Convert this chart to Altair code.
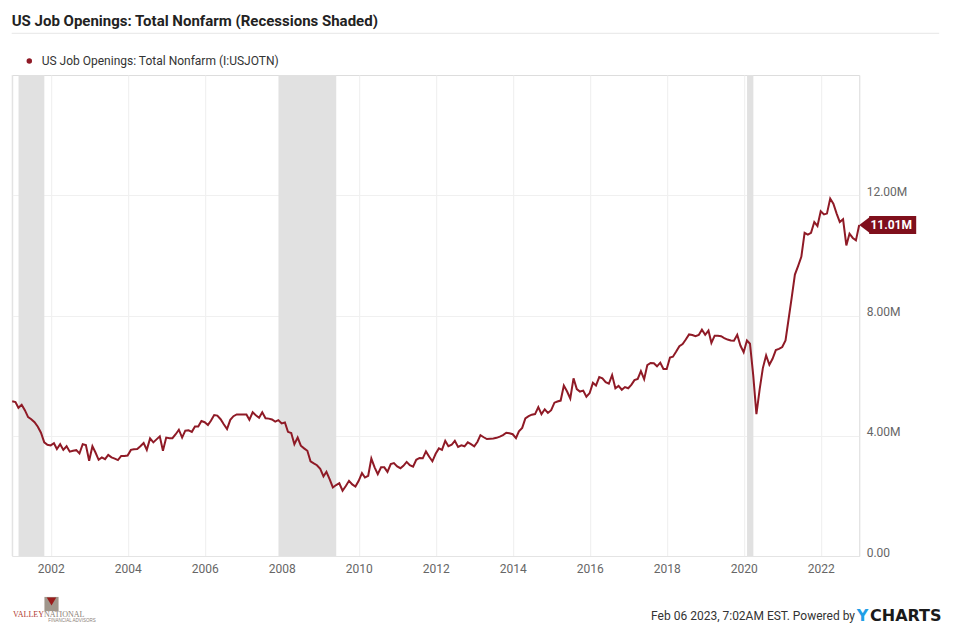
import altair as alt
import pandas as pd

TITLE = "US Job Openings: Total Nonfarm (Recessions Shaded)"
SERIES = "US Job Openings: Total Nonfarm (I:USJOTN)"
FOOTER = "Feb 06 2023, 7:02AM EST. Powered by"

# Monthly values, millions (Dec 2000 - Dec 2022)
v2000 = [5.15]
v2001 = [5.12, 4.93, 5.03, 4.85, 4.62, 4.55, 4.45, 4.30, 4.10, 3.78, 3.70, 3.68]
v2002 = [3.75, 3.56, 3.72, 3.53, 3.65, 3.47, 3.50, 3.52, 3.41, 3.72, 3.69, 3.17]
v2003 = [3.65, 3.45, 3.20, 3.28, 3.22, 3.36, 3.28, 3.24, 3.19, 3.33, 3.33, 3.34]
v2004 = [3.53, 3.55, 3.56, 3.65, 3.76, 3.53, 3.91, 3.78, 3.88, 3.98, 3.50, 3.94]
v2005 = [3.92, 3.92, 4.05, 4.20, 3.94, 4.17, 4.18, 4.13, 4.31, 4.31, 4.49, 4.45]
v2006 = [4.36, 4.50, 4.69, 4.67, 4.55, 4.38, 4.22, 4.53, 4.65, 4.71, 4.71, 4.71]
v2007 = [4.71, 4.53, 4.78, 4.68, 4.60, 4.78, 4.58, 4.57, 4.54, 4.47, 4.52, 4.41]
v2008 = [4.44, 4.13, 4.09, 3.72, 3.94, 3.67, 3.58, 3.50, 3.15, 3.08, 3.02, 2.90]
v2009 = [2.65, 2.80, 2.55, 2.28, 2.36, 2.42, 2.17, 2.33, 2.50, 2.38, 2.31, 2.50]
v2010 = [2.76, 2.61, 2.67, 3.24, 2.95, 2.72, 2.95, 2.95, 2.80, 3.06, 3.09, 2.98]
v2011 = [2.92, 3.00, 3.13, 3.02, 2.97, 3.20, 3.26, 3.25, 3.48, 3.30, 3.15, 3.40]
v2012 = [3.58, 3.53, 3.83, 3.65, 3.70, 3.83, 3.63, 3.68, 3.65, 3.78, 3.72, 3.65]
v2013 = [3.80, 4.02, 3.95, 3.89, 3.90, 3.91, 3.93, 3.97, 4.02, 4.10, 4.08, 4.05]
v2014 = [3.92, 4.15, 4.26, 4.58, 4.65, 4.70, 4.72, 4.95, 4.72, 4.88, 4.76, 4.85]
v2015 = [5.10, 5.14, 5.17, 5.67, 5.47, 5.24, 5.91, 5.55, 5.47, 5.50, 5.30, 5.42]
v2016 = [5.76, 5.67, 5.95, 5.91, 5.78, 5.73, 6.02, 5.58, 5.66, 5.53, 5.62, 5.58]
v2017 = [5.70, 5.85, 5.89, 6.15, 5.88, 6.35, 6.42, 6.41, 6.31, 6.43, 6.22, 6.22]
v2018 = [6.60, 6.63, 6.80, 6.98, 7.05, 7.20, 7.37, 7.35, 7.31, 7.35, 7.53, 7.36]
v2019 = [7.50, 7.09, 7.33, 7.33, 7.31, 7.25, 7.20, 7.17, 7.16, 7.36, 7.00, 6.78]
v2020 = [7.17, 7.06, 6.00, 4.72, 5.55, 6.25, 6.67, 6.36, 6.56, 6.85, 6.89, 6.95]
v2021 = [7.17, 7.85, 8.60, 9.36, 9.65, 9.95, 10.75, 10.69, 10.75, 11.11, 10.98, 11.47]
v2022 = [11.36, 11.39, 11.89, 11.72, 11.39, 11.11, 11.20, 10.33, 10.72, 10.58, 10.50, 11.01]

values = (v2000 + v2001 + v2002 + v2003 + v2004 + v2005 + v2006 + v2007 + v2008
          + v2009 + v2010 + v2011 + v2012 + v2013 + v2014 + v2015 + v2016 + v2017
          + v2018 + v2019 + v2020 + v2021 + v2022)

start = pd.Timestamp("2000-12-01")
dates = [(start + pd.DateOffset(months=i) + pd.offsets.MonthEnd(0)).strftime("%Y-%m-%d")
         for i in range(len(values))]

rec_start = ["2001-03-01", "2007-12-01", "2020-02-01"]
rec_end = ["2001-11-01", "2009-06-01", "2020-04-01"]

tick_years = [2002, 2004, 2006, 2008, 2010, 2012, 2014, 2016, 2018, 2020, 2022]
y_ticks = [0, 4, 8, 12]

LINE = "#8f1a26"
BOX = "#7f0f1c"
W, H = 847, 481

df = pd.DataFrame({"date": dates, "v": values})
rec = pd.DataFrame({"start": rec_start, "end": rec_end})
last = pd.DataFrame({"date": [dates[-1]], "v": [values[-1]],
                     "label": [f"{values[-1]:.2f}M"]})

xscale = alt.Scale(type="utc", domain=[alt.DateTime(year=2000, month=12, date=31, utc=True),
                                       alt.DateTime(year=2022, month=12, date=31, utc=True)])
xaxis = alt.Axis(format="%Y", values=[alt.DateTime(year=y, month=1, date=1, utc=True) for y in tick_years],
                 title=None, ticks=False, labelPadding=7, labelFontSize=12, labelColor="#666666",
                 labelFont="Roboto", domainColor="#e4e4e4", gridColor="#eeeeee", labelOverlap=False,
                 labelFlush=False)
yscale = alt.Scale(domain=[0, 16], nice=False, zero=True)
yaxis = alt.Axis(orient="right", values=y_ticks, title=None, ticks=False, labelPadding=7,
                 labelFontSize=12, labelColor="#666666", labelFont="Roboto",
                 labelBaseline="alphabetic", domainColor="#e4e4e4", gridColor="#f0f0f0",
                 labelExpr="datum.value == 0 ? '0.00' : format(datum.value, '.2f') + 'M'")

bands = alt.Chart(rec).mark_rect(color="#e1e1e1").encode(
    x=alt.X("start:T", scale=xscale, axis=xaxis), x2="end:T")

line = alt.Chart(df).mark_line(color=LINE, strokeWidth=2).encode(
    x=alt.X("date:T", scale=xscale, axis=xaxis),
    y=alt.Y("v:Q", scale=yscale, axis=yaxis))

left_edge = alt.Chart(rec.head(1)).mark_rule(color="#e4e4e4").encode(
    x=alt.value(0), y=alt.value(0), y2=alt.value(H))

box = alt.Chart(last).mark_rule(color=BOX, strokeWidth=18, strokeCap="butt").encode(
    x=alt.value(857), x2=alt.value(904), y=alt.Y("v:Q", scale=yscale, axis=yaxis))
arrow = alt.Chart(last).mark_point(shape="M-0.56,0L0.75,-1L0.75,1Z", filled=True, size=324,
                                   color=BOX, opacity=1).encode(
    x=alt.value(852.1), y=alt.Y("v:Q", scale=yscale, axis=yaxis))
box_text = alt.Chart(last).mark_text(color="white", font="Roboto", fontWeight="bold", fontSize=12,
                                     align="center", baseline="middle").encode(
    x=alt.value(879), y=alt.Y("v:Q", scale=yscale, axis=yaxis), text="label:N")

def txt(s, x, y, **kw):
    return alt.Chart(pd.DataFrame({"t": [s]})).mark_text(**kw).encode(
        x=alt.value(x), y=alt.value(y), text="t:N")

title = txt(TITLE, -0.5, -49, font="Roboto", fontSize=15, fontWeight="bold", color="#222222",
            align="left", baseline="alphabetic")
sep = alt.Chart(rec.head(1)).mark_rule(color="#e6e6e6").encode(
    x=alt.value(-0.5), x2=alt.value(927), y=alt.value(-41.7))
dot = alt.Chart(rec.head(1)).mark_point(filled=True, size=30, color=LINE, opacity=1).encode(
    x=alt.value(17.1), y=alt.value(-14))
legend = txt(SERIES, 29.5, -10, font="Roboto", fontSize=12, color="#333333",
             align="left", baseline="alphabetic")
footer = txt(FOOTER, 842.8, 545, font="Roboto", fontSize=12, color="#333333",
             align="right", baseline="alphabetic")
yc_y = txt("Y", 844.5, 545.5, font="DejaVu Sans", fontSize=16, fontWeight="bold", color="#1f9fe6",
           align="left", baseline="alphabetic")
yc_rest = txt("CHARTS", 857.8, 545.5, font="DejaVu Sans", fontSize=16, fontWeight="bold",
              color="#1a1a1a", align="left", baseline="alphabetic")

logo_sq = alt.Chart(rec.head(1)).mark_point(shape="square", filled=True, size=200, color="#a0968b",
                                            opacity=1).encode(x=alt.value(39.3), y=alt.value(529))
logo_tri = alt.Chart(rec.head(1)).mark_point(shape="triangle-down", filled=True, size=90,
                                             color="#9b1b1b", opacity=1).encode(
    x=alt.value(39.3), y=alt.value(526.5))
logo_v = txt("VALLEY", 31.8, 542, font="Liberation Serif", fontSize=8, color="#b03a32",
             align="right", baseline="alphabetic")
logo_n = txt("NATIONAL", 31.8, 542, font="Liberation Serif", fontSize=8, color="#8c8279",
             align="left", baseline="alphabetic")
logo_s = txt("FINANCIAL ADVISORS", 36, 546.5, font="Liberation Sans", fontSize=4.5, color="#8c8279",
             align="left", baseline="alphabetic")

chart = alt.layer(
    bands, left_edge, line, box, arrow, box_text,
    title, sep, dot, legend, footer, yc_y, yc_rest, logo_sq, logo_tri, logo_v, logo_n, logo_s
).properties(
    width=W, height=H,
    autosize=alt.AutoSizeParams(type="none"),
    padding={"left": 4.2, "top": 67, "right": 85.8, "bottom": 67},
    background="white",
).configure_view(strokeWidth=0).configure(font="Roboto")

chart.save("out.html", embed_options={"renderer": "svg", "actions": False})
